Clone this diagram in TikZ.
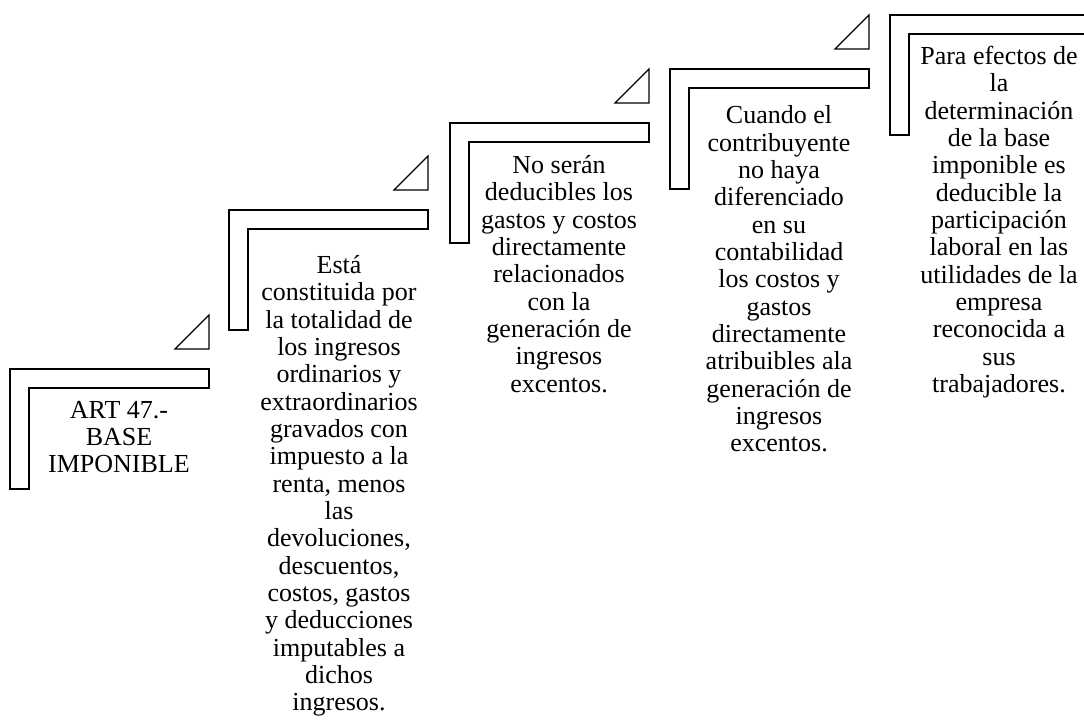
\documentclass[tikz,border=0pt]{standalone}
\usepackage{fontspec}
\setmainfont{Liberation Serif}
\begin{document}
\begin{tikzpicture}[x=0.75pt, y=-0.75pt, line width=0.9pt,
   txt/.style={align=center, inner sep=0pt, font=\fontsize{19.5}{20.5}\selectfont}]
   \useasboundingbox (0,0) rectangle (1084,720);
   \clip (0,0) rectangle (1084,720);
   % Steps and small triangles
   \foreach \i/\x/\y in {1/10/369, 2/229/210, 3/450/123, 4/670/69, 5/890/15} {
      \draw (\x,\y) -- ++(199,0) -- ++(0,19) -- ++(-180,0) -- ++(0,101) -- ++(-19,0) -- cycle;
      \draw (\x+165,\y-20) -- ++(34,0) -- ++(0,-34) -- cycle;
   }
   % Texts
   \node[txt] (T1) at (119,437) {ART 47.-\\BASE\\IMPONIBLE};
   \node[txt] (T2) at (339,486) {Está\\constituida por\\la totalidad de\\los ingresos\\ordinarios y\\extraordinarios\\gravados con\\impuesto a la\\renta, menos\\las\\devoluciones,\\descuentos,\\costos, gastos\\y deducciones\\imputables a\\dichos\\ingresos.};
   \node[txt] (T3) at (559,274) {No serán\\deducibles los\\gastos y costos\\directamente\\relacionados\\con la\\generación de\\ingresos\\excentos.};
   \node[txt] (T4) at (779,279) {Cuando el\\contribuyente\\no haya\\diferenciado\\en su\\contabilidad\\los costos y\\gastos\\directamente\\atribuibles ala\\generación de\\ingresos\\excentos.};
   \node[txt] (T5) at (999,222) {Para efectos de\\la\\determinación\\de la base\\imponible es\\deducible la\\participación\\laboral en las\\utilidades de la\\empresa\\reconocida a\\sus\\trabajadores.};
\end{tikzpicture}
\end{document}
